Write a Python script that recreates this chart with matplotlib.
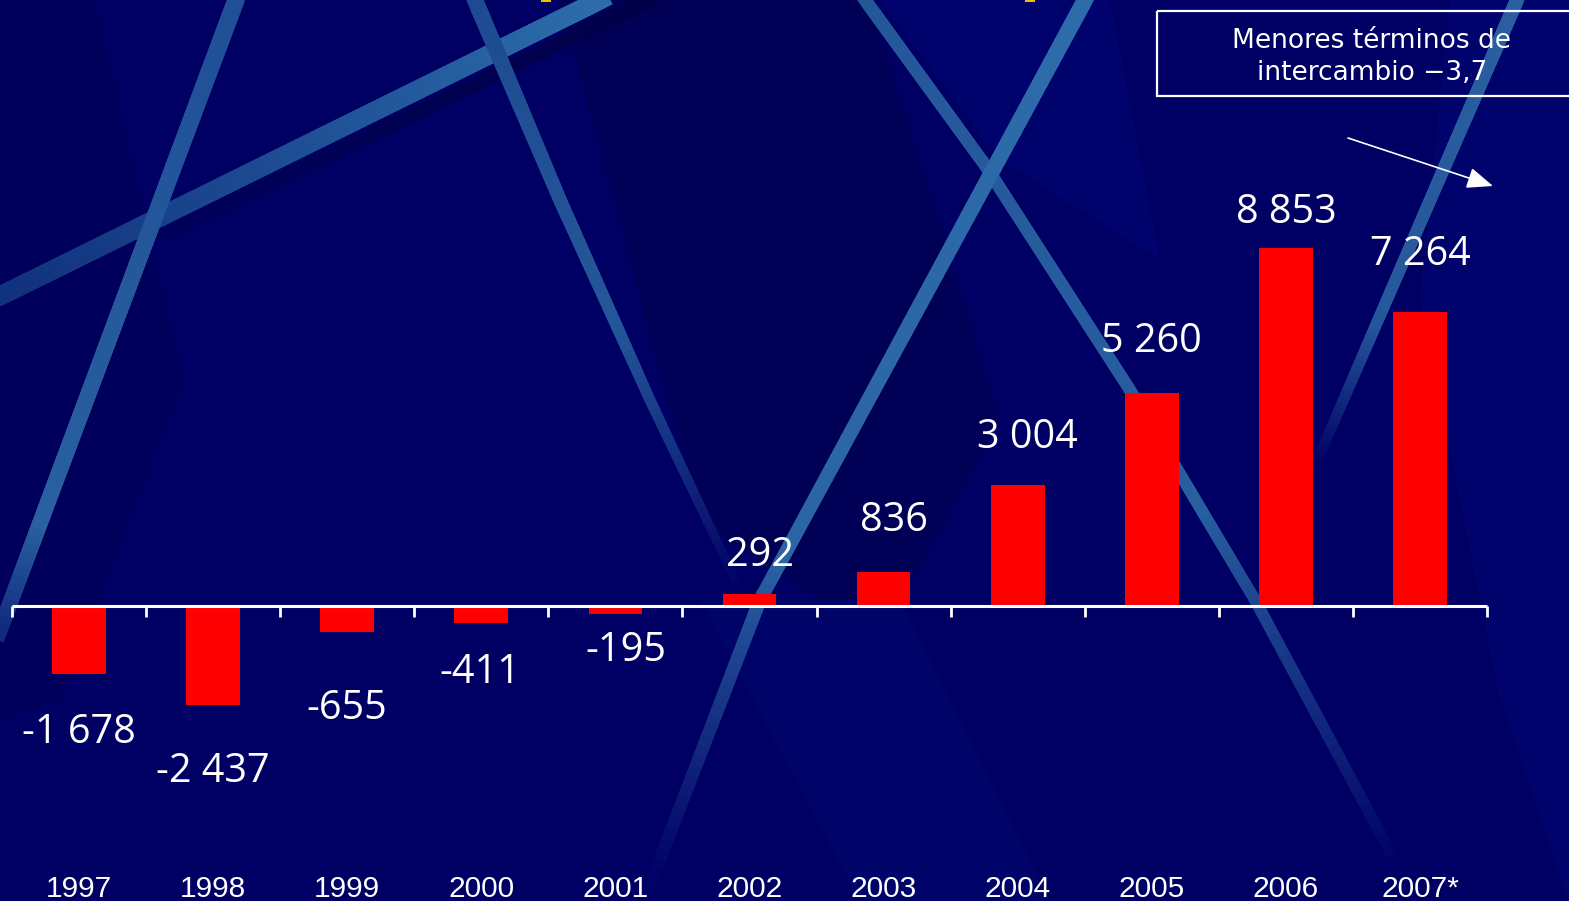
import numpy as np
import matplotlib
matplotlib.use('Agg')
import matplotlib.pyplot as plt
from matplotlib.patches import Polygon, Rectangle, FancyArrowPatch
from matplotlib.collections import LineCollection
from matplotlib.colors import to_rgb

# trade balance by year (millions)
years = ['1997', '1998', '1999', '2000', '2001', '2002', '2003', '2004', '2005', '2006', '2007*']
balance = [-1678, -2437, -655, -411, -195, 292, 836, 3004, 5260, 8853, 7264]
note_lines = ['Menores términos de', 'intercambio \u22123,7']

# label placement (px away from the bar end, px sideways)
label_gap = [54, 62, 72, 45, 32, 43, 56, 52, 56, 40, 62]
label_dx = [0, 0, 0, -1, 10, 10, 10, 10, 0, 0, 0]

W, H = 1569, 901
BASE = '#000064'
ZERO_PX = 606          # screen row of the zero line
STEP = 134.1           # px per category
X0 = 79                # px centre of first bar
PX = 358 / 8853        # px per unit of value

fig = plt.figure(figsize=(W / 100, H / 100), dpi=100)

# ---------- background ----------
bg = fig.add_axes([0, 0, 1, 1])
bg.set_xlim(0, W)
bg.set_ylim(H, 0)
bg.axis('off')
bg.add_patch(Rectangle((0, 0), W, H, color=BASE, zorder=0))

# darker / lighter shading areas
shades = [
    ([(0, 0), (95, 0), (184, 380), (60, 700), (0, 720)], '#00005c'),
    ([(560, 0), (870, 0), (1000, 420), (880, 640), (700, 520)], '#000056'),
    ([(880, 0), (1110, 0), (1160, 260), (1000, 160)], '#00036c'),
    ([(1450, 0), (W, 0), (W, H), (1500, 700), (1420, 300)], '#00036c'),
    ([(700, 600), (900, 600), (1050, 901), (860, 901)], '#000368'),
]
for pts, c in shades:
    bg.add_patch(Polygon(pts, closed=True, color=c, lw=0, zorder=1))


def mix(a, b, t):
    a, b = np.array(to_rgb(a)), np.array(to_rgb(b))
    return a + (b - a) * t


def streak(pts, w0, w1, c0, c1, fade=0.0, n=90):
    pts = np.array(pts, float)
    seg = np.hypot(*np.diff(pts, axis=0).T)
    s = np.r_[0, np.cumsum(seg)]
    t = np.linspace(0, s[-1], n + 1)
    x = np.interp(t, s, pts[:, 0])
    y = np.interp(t, s, pts[:, 1])
    segs = np.stack([np.c_[x[:-1], y[:-1]], np.c_[x[1:], y[1:]]], axis=1)
    u = (t[:-1] + t[1:]) / 2 / s[-1]
    cols = []
    for uu in u:
        c = mix(c0, c1, uu)
        if fade > 0 and uu > 1 - fade:
            c = c + (np.array(to_rgb(BASE)) - c) * ((uu - (1 - fade)) / fade)
        cols.append(c)
    widths = (w0 + (w1 - w0) * u) * 0.72
    bg.add_collection(LineCollection(segs, colors=cols, linewidths=widths,
                                     capstyle='projecting', zorder=2))


# shadow under the long diagonal band
streak([(170, 232), (650, 0)], 14, 14, '#00005c', '#000048')
# long diagonal band from the left edge
streak([(0, 296), (600, 0)], 19, 19, '#10307c', '#2c6cab')
streak([(236, 0), (-30, 710)], 17, 15, '#1f4f95', '#2b66a4', fade=0.25)
streak([(475, 0), (560, 200), (650, 400), (740, 590)], 16, 8,
       '#1d4a90', '#2a62a0', fade=0.45)
streak([(865, 0), (985, 165), (1130, 390), (1255, 600), (1400, 870)], 13, 11,
       '#24579a', '#2a64a2', fade=0.4)
streak([(1085, 0), (760, 600), (650, 885)], 16, 12, '#2d6cab', '#2a60a0', fade=0.35)
streak([(1517, 0), (1313, 470)], 14, 10, '#2a5fa0', '#24549a', fade=0.3)

# slivers of the heading cut by the top edge
bg.add_patch(Rectangle((541, 0), 10, 2, color='#f0c000', lw=0, zorder=3))
bg.add_patch(Rectangle((1025, 0), 10, 2, color='#f0c000', lw=0, zorder=3))

# note box and arrow
bg.add_patch(Rectangle((1157, 11), 440, 85, fill=False, ec='white', lw=1.6, zorder=5))
bg.text(1372, 48, note_lines[0], ha='center', va='baseline', color='white',
        fontsize=19, family='DejaVu Sans', zorder=6)
bg.text(1372, 80, note_lines[1], ha='center', va='baseline', color='white',
        fontsize=19, family='DejaVu Sans', zorder=6)
bg.add_patch(FancyArrowPatch((1348, 138), (1493, 186),
                             arrowstyle='-|>,head_length=16,head_width=6.5',
                             mutation_scale=1, color='white', lw=1.2,
                             shrinkA=0, shrinkB=0, zorder=6))

# ---------- bars ----------
ax = fig.add_axes([0, 0, 1, 1])
ax.patch.set_alpha(0)
ax.axis('off')
ax.set_xlim(-X0 / STEP, (W - X0) / STEP)
ax.set_ylim(-(H - ZERO_PX) / PX, ZERO_PX / PX)

x = np.arange(len(years))
ax.bar(x, balance, width=0.40, color='#ff0000', zorder=3)

ax.plot([-0.5, len(years) - 0.5], [0, 0], color='white', lw=2.2,
        solid_capstyle='butt', zorder=4)
for b in np.arange(-0.5, len(years)):
    ax.plot([b, b], [0, -11 / PX], color='white', lw=2.0,
            solid_capstyle='butt', zorder=4)

for i, v in enumerate(balance):
    lab = f'{v:,}'.replace(',', ' ')
    sign = 1 if v > 0 else -1
    cy = v + sign * label_gap[i] / PX
    ax.text(i + label_dx[i] / STEP, cy - 15 / PX, lab, ha='center', va='baseline',
            color='white', fontsize=28.5, family='Open Sans', zorder=5)

for i, yr in enumerate(years):
    ax.text(i, -(897 - ZERO_PX) / PX, yr, ha='center', va='baseline',
            color='white', fontsize=21.5, family='Liberation Sans', zorder=5)

fig.savefig('out.png', dpi=100)
